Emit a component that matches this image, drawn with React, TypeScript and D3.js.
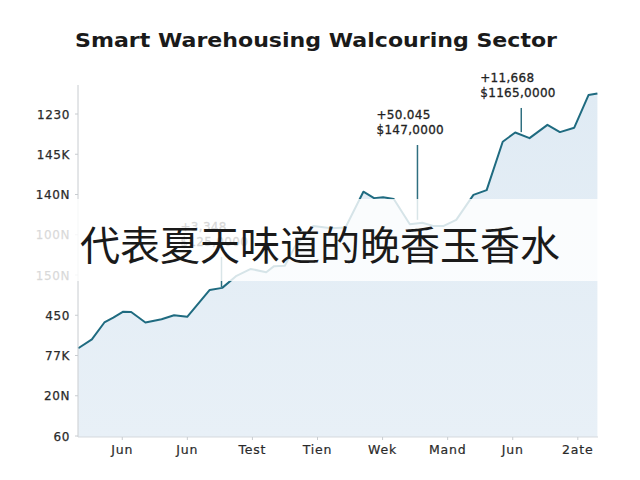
import React from "react";
import * as d3 from "d3";

const title = "Smart Warehousing Walcouring Sector";
const overlayText = "代表夏天味道的晚香玉香水";

const yTickLabels = ["60", "20N", "77K", "450", "150N", "100N", "140N", "145K", "1230"];
const xTickLabels = ["Jun", "Jun", "Test", "Tien", "Wek", "Mand", "Jun", "2ate"];

// x in tick units (0 = first tick), y in tick units (0 = "60")
const seriesX = [
  -0.676, -0.467, -0.275, -0.138, 0.015, 0.137, 0.356, 0.604, 0.796, 0.998,
  1.344, 1.536, 1.756, 1.975, 2.212, 2.333, 2.498, 2.662, 2.937, 3.212,
  3.43, 3.705, 3.869, 4.008, 4.172, 4.419, 4.611, 4.776, 4.94, 5.132,
  5.396, 5.599, 5.846, 6.038, 6.258, 6.533, 6.725, 6.945, 7.164, 7.301,
];
const seriesY = [
  2.18, 2.4, 2.82, 2.94, 3.09, 3.08, 2.82, 2.9, 3.0, 2.96,
  3.63, 3.68, 3.98, 4.15, 4.07, 4.22, 4.23, 4.73, 5.22, 5.16,
  5.18, 6.07, 5.91, 5.93, 5.89, 5.26, 5.3, 5.22, 5.22, 5.37,
  5.99, 6.11, 7.31, 7.54, 7.4, 7.73, 7.55, 7.66, 8.47, 8.51,
];

const annLine1 = ["+3,348", "+50.045", "+11,668"];
const annLine2 = ["$125,0000", "$147,0000", "$1165,0000"];
const annX = [1.525, 4.536, 6.131];
const annTop = [4.45, 7.23, 8.15];
const annBottom = [3.7, 5.37, 7.55];

export default function App() {
  const W = 640;
  const H = 480;
  const x = d3.scaleLinear().domain([-0.68, 7.31]).range([78, 598]);
  const y = d3.scaleLinear().domain([0, 8]).range([436, 114]);
  const data = seriesX.map((v, i) => ({ x: v, y: seriesY[i] }));
  const line = d3
    .line<{ x: number; y: number }>()
    .x((d) => x(d.x))
    .y((d) => y(d.y));
  const area = d3
    .area<{ x: number; y: number }>()
    .x((d) => x(d.x))
    .y0(437)
    .y1((d) => y(d.y));

  const labelFont = "DejaVu Sans, Verdana, sans-serif";

  return (
    <svg
      width={W}
      height={H}
      viewBox={`0 0 ${W} ${H}`}
      style={{ position: "absolute", left: 0, top: 0, background: "#fff" }}
    >
      <defs>
        <linearGradient id="fillGrad" x1="0" y1="0" x2="0" y2="1">
          <stop offset="0%" stopColor="#e0ebf4" />
          <stop offset="100%" stopColor="#e8f0f7" />
        </linearGradient>
      </defs>
      <rect x={0} y={0} width={W} height={H} fill="#ffffff" />
      <text
        x={316}
        y={47}
        textAnchor="middle"
        fontFamily={labelFont}
        fontWeight="bold"
        fontSize={19}
        fill="#1a1a1a"
        textLength={482}
        lengthAdjust="spacingAndGlyphs"
      >
        {title}
      </text>

      <path d={area(data) ?? ""} fill="url(#fillGrad)" />
      <path d={line(data) ?? ""} fill="none" stroke="#1f6b80" strokeWidth={2} strokeLinejoin="round" />

      {/* axes */}
      <line x1={78} x2={78} y1={85} y2={437} stroke="#c8ccd0" strokeWidth={1} />
      <line x1={78} x2={598} y1={437} y2={437} stroke="#d5d9dd" strokeWidth={1} />
      {yTickLabels.map((lab, i) => (
        <g key={"y" + i}>
          <line x1={75} x2={78} y1={y(i)} y2={y(i)} stroke="#c8ccd0" />
          <text
            x={70}
            y={y(i) + 4.5}
            textAnchor="end"
            fontFamily={labelFont}
            fontSize={12}
            letterSpacing={0.6}
            fill="#2a2a2a"
            stroke="#2a2a2a"
            strokeWidth={0.25}
          >
            {lab}
          </text>
        </g>
      ))}
      {xTickLabels.map((lab, i) => (
        <g key={"x" + i}>
          <line x1={x(i)} x2={x(i)} y1={437} y2={440} stroke="#c8ccd0" />
          <text
            x={x(i)}
            y={454}
            textAnchor="middle"
            fontFamily={labelFont}
            fontSize={12.5}
            letterSpacing={0.8}
            fill="#2a2a2a"
            stroke="#2a2a2a"
            strokeWidth={0.2}
          >
            {lab}
          </text>
        </g>
      ))}

      {/* annotations */}
      {annX.map((v, i) => {
        const top = y(annTop[i]);
        return (
          <g key={"a" + i}>
            <line x1={x(v)} x2={x(v)} y1={top} y2={y(annBottom[i])} stroke="#2f6f80" strokeWidth={1.5} />
            <text x={x(v) - 41} y={top - 26} fontFamily={labelFont} fontSize={12} fill="#222" stroke="#222" strokeWidth={0.3} letterSpacing={0.3}>
              {annLine1[i]}
            </text>
            <text x={x(v) - 41} y={top - 11} fontFamily={labelFont} fontSize={12} fill="#222" stroke="#222" strokeWidth={0.3} letterSpacing={0.3}>
              {annLine2[i]}
            </text>
          </g>
        );
      })}

      {/* overlay band with caption */}
      <rect x={0} y={199} width={600} height={82} fill="#ffffff" opacity={0.82} />
      <text
        x={80}
        y={260}
        fontFamily="Noto Sans CJK SC, sans-serif"
        fontSize={40}
        fill="#1a1a1a"
      >
        {overlayText}
      </text>
    </svg>
  );
}
